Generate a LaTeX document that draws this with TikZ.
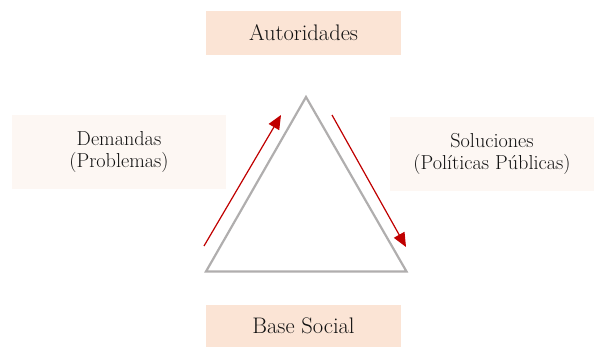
\documentclass[tikz,border=0pt]{standalone}
\usetikzlibrary{arrows.meta}
\definecolor{peach}{HTML}{FBE4D5}
\definecolor{lightpeach}{HTML}{FDF7F3}
\definecolor{tri}{HTML}{B0AEAE}
\definecolor{arr}{HTML}{C00000}
\definecolor{txt}{HTML}{111111}
\begin{document}
\begin{tikzpicture}[x=1pt,y=-1pt,
  mainbox/.style={fill=peach,draw=none,inner sep=0pt,text=txt,font=\fontsize{22.5}{24}\selectfont},
  sidebox/.style={fill=lightpeach,draw=none,inner sep=0pt,text=txt,align=center,font=\fontsize{20.2}{21.5}\selectfont},
  flow/.style={draw=arr,line width=1.2pt,-{Triangle[length=14pt,width=12pt]}}]
\useasboundingbox (0,0) rectangle (594,347);
\node[mainbox,minimum width=195pt,minimum height=44pt] (aut) at (303.5,33) {Autoridades};
\node[mainbox,minimum width=195pt,minimum height=42pt] (base) at (303.5,326) {Base Social};
\node[sidebox,minimum width=214pt,minimum height=74pt] (dem) at (119,152) {Demandas\\(Problemas)};
\node[sidebox,minimum width=204pt,minimum height=74pt] (sol) at (492,154) {Soluciones\\(Políticas Públicas)};
\coordinate (apex) at (306,97);
\coordinate (bl) at (206,271.5);
\coordinate (br) at (406.5,271.5);
\draw[tri,line width=2.2pt,line join=miter] (apex) -- (bl) -- (br) -- cycle;
\coordinate (a1s) at (204,246);
\coordinate (a1e) at (281,115);
\coordinate (a2s) at (332,115);
\coordinate (a2e) at (406,247);
\draw[flow] (a1s) -- (a1e);
\draw[flow] (a2s) -- (a2e);
\end{tikzpicture}
\end{document}
